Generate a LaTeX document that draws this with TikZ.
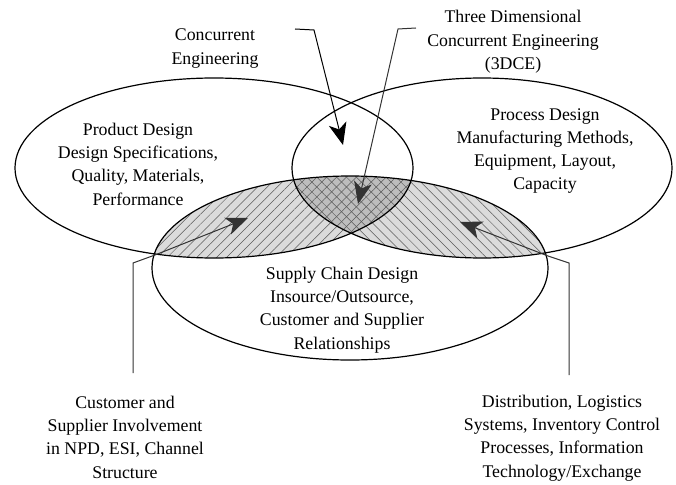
\documentclass[tikz,border=0pt]{standalone}
\usepackage{fontspec}
\setmainfont{Liberation Serif}
\usetikzlibrary{arrows.meta,patterns.meta}

% the three design areas
\newcommand{\productarea}{(214,168) ellipse [x radius=199pt, y radius=90pt]}
\newcommand{\processarea}{(482,168) ellipse [x radius=190pt, y radius=90pt]}
\newcommand{\supplyarea}{(350,268) ellipse [x radius=198pt, y radius=92pt]}

\begin{document}
\begin{tikzpicture}[x=1pt, y=-1pt,
  textblock/.style={align=center, font=\fontsize{17.8}{23.3}\selectfont, inner sep=0pt},
  rim/.style={draw=black, line width=1.2pt},
  pointer/.style={draw=black, line width=1pt, -{Stealth[length=22pt,width=18pt,inset=6pt]}},
  shadedpointer/.style={pointer, draw=black!80},
  hatch/.style={pattern={Lines[angle=#1,distance=7pt,line width=0.5pt]}, pattern color=black!65}
]
\useasboundingbox (0,0) rectangle (676,484);

% shaded overlap with the supply chain
\begin{scope}
  \clip \supplyarea;
  \fill[black!14] \productarea;
  \fill[black!14] \processarea;
  \begin{scope}
    \clip \productarea;
    \fill[black!26] \processarea;
  \end{scope}
  \fill[hatch=45] \productarea;
  \fill[hatch=-45] \processarea;
\end{scope}
\draw[rim] \productarea;
\draw[rim] \processarea;
\draw[rim] \supplyarea;

\node[textblock] (concurrent) at (215,48.5) {Concurrent\\Engineering};
\node[textblock] (threedce) at (513,42) {Three Dimensional\\Concurrent Engineering\\(3DCE)};
\node[textblock] (product) at (138,164) {Product Design\\Design Specifications,\\Quality, Materials,\\Performance};
\node[textblock] (process) at (545,151) {Process Design\\Manufacturing Methods,\\Equipment, Layout,\\Capacity};
\node[textblock] (supply) at (342,310) {Supply Chain Design\\Insource/Outsource,\\Customer and Supplier\\Relationships};
\node[textblock] (customer) at (125,437) {Customer and\\Supplier Involvement\\in NPD, ESI, Channel\\Structure};
\node[textblock] (distribution) at (562,438) {Distribution, Logistics\\Systems, Inventory Control\\Processes, Information\\Technology/Exchange};

\coordinate (cestart) at (295,29);
\coordinate (cebend) at (314,30);
\coordinate (cetip) at (343,145);
\coordinate (dcestart) at (416,28);
\coordinate (dcebend) at (398,29);
\coordinate (dcetip) at (358,204);
\coordinate (custstart) at (133,373);
\coordinate (custbend) at (133,263);
\coordinate (custcross) at (155,255);
\coordinate (custtip) at (248,218);
\coordinate (diststart) at (569,375);
\coordinate (distbend) at (569,263);
\coordinate (distcross) at (548,256);
\coordinate (disttip) at (460,222);

\draw[pointer] (cestart) -- (cebend) -- (cetip);
\draw[shadedpointer] (dcestart) -- (dcebend) -- (dcetip);
\draw[shadedpointer] (custstart) -- (custbend) -- (custcross) -- (custtip);
\draw[shadedpointer] (diststart) -- (distbend) -- (distcross) -- (disttip);
\end{tikzpicture}
\end{document}
